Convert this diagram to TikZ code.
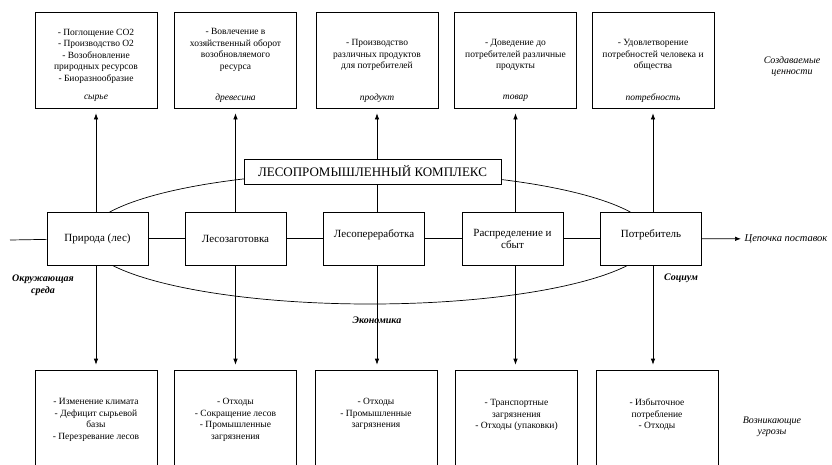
\documentclass[tikz,border=0pt]{standalone}
\usepackage{fontspec}
\setmainfont{Liberation Serif}
\usetikzlibrary{arrows.meta}

\tikzset{
  valbox/.style={draw, fill=white, minimum width=122pt, minimum height=96pt},
  thrbox/.style={draw, fill=white, minimum width=122pt, minimum height=110pt},
  stage/.style={draw, fill=white, minimum width=101pt, minimum height=53pt,
    align=center, font=\fontsize{11}{12}\selectfont},
  small/.style={align=center, inner sep=0pt, font=\fontsize{9.5}{11.5}\selectfont},
  tag/.style={font=\fontsize{9.5}{11}\selectfont\itshape},
  side/.style={align=center, font=\fontsize{10}{11}\selectfont\itshape},
  sphere/.style={align=center, font=\fontsize{10}{12}\selectfont\bfseries\itshape}
}

\begin{document}
\begin{tikzpicture}[x=1pt, y=-1pt, line width=0.7pt, >={Latex[length=6pt,width=4.5pt]}]
    \useasboundingbox (0,0) rectangle (832,464);

    % Created values
    \node at (96, 60) (val1) [valbox] {};
    \node at (235.5, 60) (val2) [valbox] {};
    \node at (377, 60) (val3) [valbox] {};
    \node at (515.5, 60) (val4) [valbox] {};
    \node at (653, 60) (val5) [valbox] {};
    \node at (96, 56) (val1txt) [small] {- Поглощение CO2\\- Производство O2\\- Возобновление\\природных ресурсов\\- Биоразнообразие};
    \node at (235.5, 50) (val2txt) [small] {- Вовлечение в\\хозяйственный оборот\\возобновляемого\\ресурса};
    \node at (377, 55) (val3txt) [small] {- Производство\\различных продуктов\\для потребителей};
    \node at (515.5, 55) (val4txt) [small] {- Доведение до\\потребителей различные\\продукты};
    \node at (653, 55) (val5txt) [small] {- Удовлетворение\\потребностей человека и\\общества};
    \node at (96, 98) (val1tag) [tag] {сырье};
    \node at (235.5, 98) (val2tag) [tag] {древесина};
    \node at (377, 98) (val3tag) [tag] {продукт};
    \node at (515.5, 98) (val4tag) [tag] {товар};
    \node at (653, 98) (val5tag) [tag] {потребность};

    % Threats
    \node at (96, 425) (thr1) [thrbox] {};
    \node at (235.5, 425) (thr2) [thrbox] {};
    \node at (376, 425) (thr3) [thrbox] {};
    \node at (516.5, 425) (thr4) [thrbox] {};
    \node at (657, 425) (thr5) [thrbox] {};
    \node at (96, 420) (thr1txt) [small] {- Изменение климата\\- Дефицит сырьевой\\базы\\- Перезревание лесов};
    \node at (235.5, 420) (thr2txt) [small] {- Отходы\\- Сокращение лесов\\- Промышленные\\загрязнения};
    \node at (376, 414) (thr3txt) [small] {- Отходы\\- Промышленные\\загрязнения};
    \node at (516.5, 415) (thr4txt) [small] {- Транспортные\\загрязнения\\- Отходы (упаковки)};
    \node at (657, 415) (thr5txt) [small] {- Избыточное\\потребление\\- Отходы};

    % Arrows up and down
    \draw[<->, shorten <=5pt, shorten >=5pt] (val1.south) -- (val1.south |- thr1.north);
    \draw[<->, shorten <=5pt, shorten >=5pt] (val2.south) -- (val2.south |- thr2.north);
    \draw[<->, shorten <=5pt, shorten >=5pt] (val3.south) -- (val3.south |- thr3.north);
    \draw[<->, shorten <=5pt, shorten >=5pt] (val4.south) -- (val4.south |- thr4.north);
    \draw[<->, shorten <=5pt, shorten >=5pt] (val5.south) -- (val5.south |- thr5.north);

    % Complex
    \draw (370, 238) ellipse [x radius=283, y radius=66];
    \node at (372.5, 171.5) (complex) [draw, fill=white, minimum width=257pt, minimum height=25pt, font=\fontsize{13}{15}\selectfont] {ЛЕСОПРОМЫШЛЕННЫЙ КОМПЛЕКС};

    % Supply chain
    \coordinate (start) at (10, 240);
    \node at (97.5, 238.5) (nature) [stage] {Природа (лес)};
    \node at (235.5, 238.5) (logging) [stage] {Лесозаготовка};
    \node at (374, 238.5) (processing) [stage] {\raisebox{1pt}[0pt][0pt]{Лесопереработка}};
    \node at (512.5, 238.5) (sales) [stage] {Распределение и\\сбыт};
    \node at (651, 238.5) (consumer) [stage] {\raisebox{1pt}[0pt][0pt]{Потребитель}};
    \node at (741, 239) (chain) [anchor=west, font=\fontsize{10.5}{12}\selectfont\itshape] {Цепочка поставок};

    \draw (start) -- (nature);
    \draw (nature) -- (logging);
    \draw (logging) -- (processing);
    \draw (processing) -- (sales);
    \draw (sales) -- (consumer);
    \draw[->] (consumer) -- (chain);

    % Labels
    \node at (43, 285) (environment) [sphere] {Окружающая\\среда};
    \node at (377, 320) (economy) [sphere] {Экономика};
    \node at (681, 278) (society) [sphere] {Социум};
    \node at (792, 67) (values) [side] {Создаваемые\\ценности};
    \node at (772, 427) (threats) [side] {Возникающие\\угрозы};
\end{tikzpicture}
\end{document}
